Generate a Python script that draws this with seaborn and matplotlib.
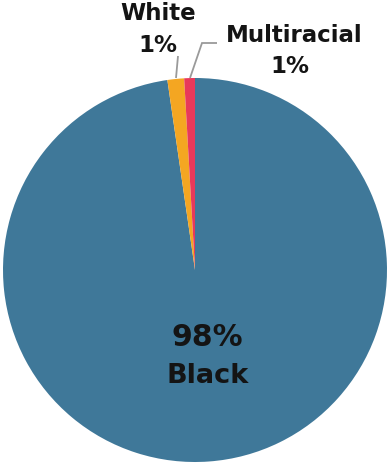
import matplotlib
matplotlib.use("Agg")
import matplotlib.pyplot as plt
import seaborn as sns

sns.set_theme(style="white")
plt.rcParams["font.family"] = ["DejaVu Sans"]

# Share of students by race
groups = ["Black", "White", "Multiracial"]
shares = [97.7, 1.4, 0.9]
colors = ["#3f7899", "#f4a622", "#e8395a"]

fig = plt.figure(figsize=(3.9, 4.65), dpi=100)
ax = fig.add_axes([3 / 390, 3 / 465, 384 / 390, 384 / 465])

wedges, _ = ax.pie(
    shares,
    colors=colors,
    startangle=90,
    counterclock=False,
    radius=1.0,
    wedgeprops=dict(linewidth=0),
)
ax.set_xlim(-1, 1)
ax.set_ylim(-1, 1)
ax.set_aspect("equal")
ax.axis("off")

def px(x, y):
    # convert pixel position in the figure to axes data coordinates
    return ((x - 195) / 192, (270 - y) / 192)

txt = "#141414"
line_col = "#9a9a9a"

# Main label inside the big slice
ax.text(*px(207, 337), f"{round(shares[0])}%", ha="center", va="center",
        fontsize=21.5, fontweight="bold", color=txt)
ax.text(*px(208, 376), groups[0], ha="center", va="center",
        fontsize=19.5, fontweight="bold", color=txt)

# Outside labels for the small slices
small = dict(ha="center", va="center", fontsize=16.5, fontweight="bold",
             color=txt)
ax.text(*px(158, 14), groups[1], **small)
ax.text(*px(158, 46), f"{round(shares[1])}%", **small)
ax.text(*px(294, 36), groups[2], **small)
ax.text(*px(290, 67), f"{round(shares[2])}%", **small)

# Leader lines
x0, y0 = px(176, 78)
x1, y1 = px(178, 56)
ax.plot([x0, x1], [y0, y1], color=line_col, lw=1.3, clip_on=False,
        solid_capstyle="butt")
x0, y0 = px(190, 78)
x1, y1 = px(202, 43)
x2, y2 = px(217, 43)
ax.plot([x0, x1, x2], [y0, y1, y2], color=line_col, lw=1.3, clip_on=False,
        solid_capstyle="butt", solid_joinstyle="miter")

fig.savefig("out.png", dpi=100, facecolor="white")
